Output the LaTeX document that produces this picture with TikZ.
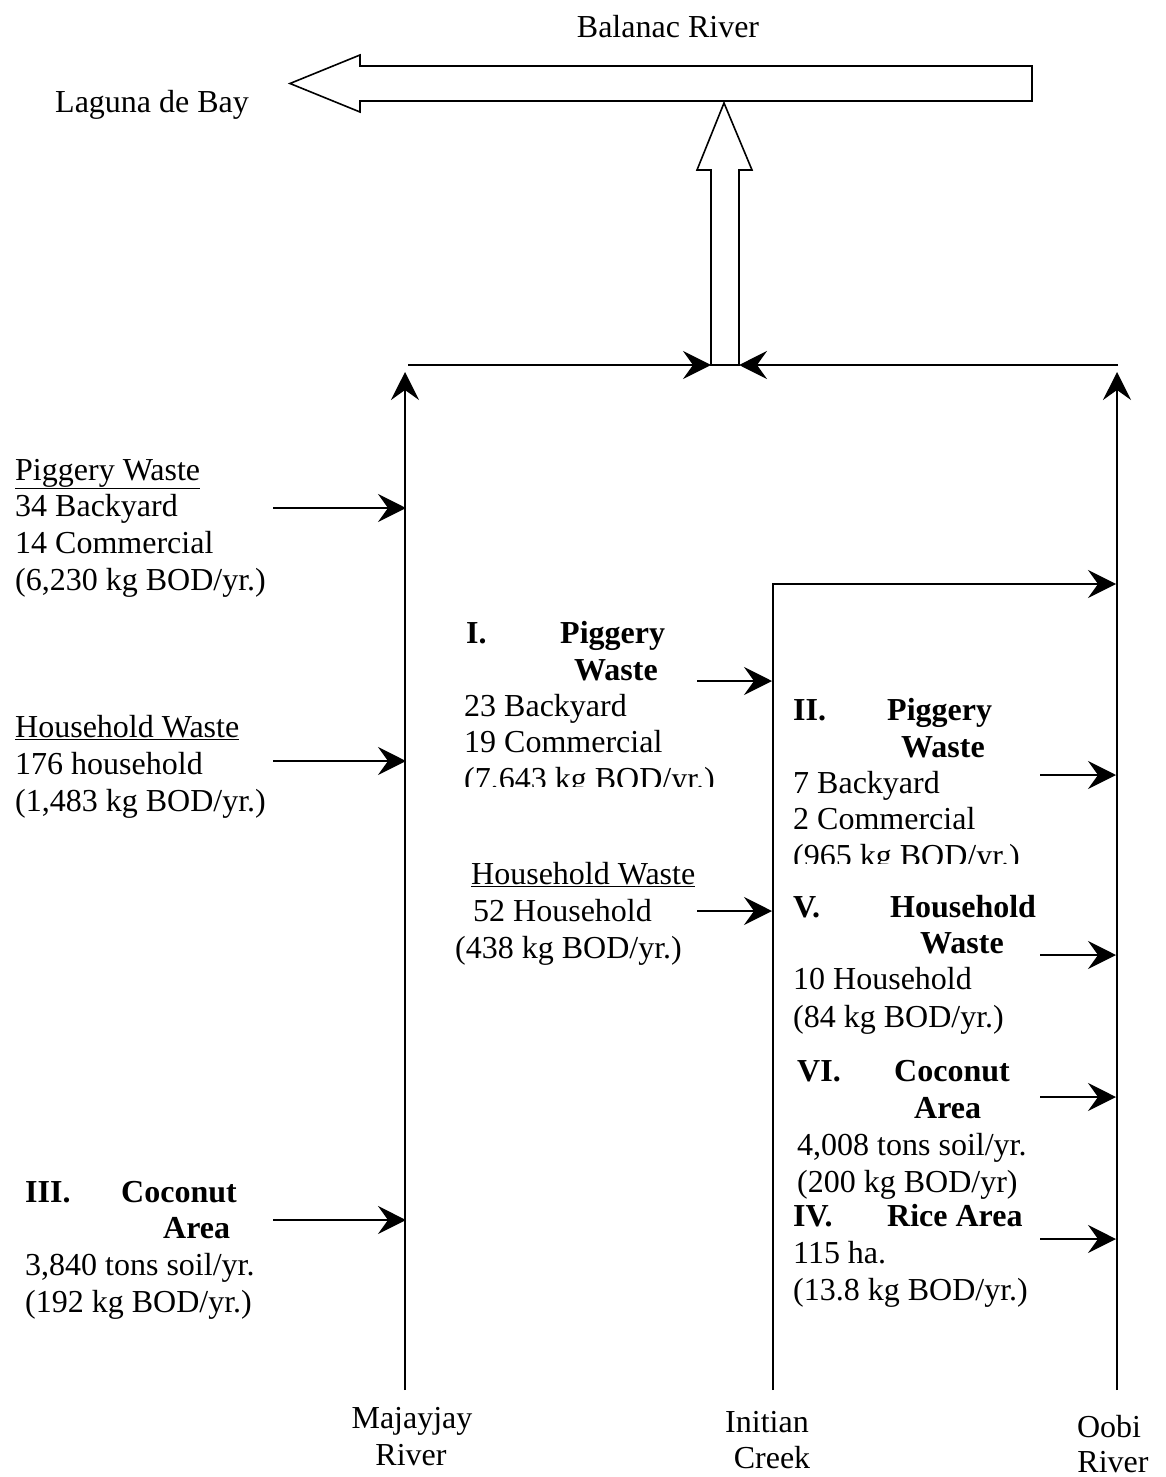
\documentclass[tikz,border=0pt]{standalone}
\usepackage{fontspec}
\setmainfont{Liberation Serif}
\usetikzlibrary{arrows.meta}
\begin{document}
\begin{tikzpicture}[x=1pt,y=-1pt,
  lbl/.style={inner sep=0pt,anchor=base west,font=\fontsize{32}{37}\selectfont},
  hd/.style={lbl,font=\fontsize{32}{37}\selectfont\bfseries},
  rivername/.style={inner sep=0pt,anchor=base,font=\fontsize{32}{37}\selectfont},
  flow/.style={line width=1.6pt,-{Stealth[length=28pt,width=28pt,inset=10pt]}},
  hollow/.style={line width=1.6pt,fill=white,line join=miter}]
\useasboundingbox (0,0) rectangle (1165,1477);

% top labels
\node[rivername] (balanac) at (668,38) {Balanac River};
\node[lbl] (laguna) at (55,113) {Laguna de Bay};

% hollow arrows
\draw[hollow] (1032,66) -- (360,66) -- (360,55) -- (290,83.5) -- (360,112) -- (360,101) -- (1032,101) -- cycle;
\draw[hollow] (711,365) -- (711,170) -- (697,170) -- (724,103) -- (752,170) -- (739,170) -- (739,365) -- cycle;

% river coordinates
\coordinate (mjB) at (405,1390);
\coordinate (mjT) at (405,372);
\coordinate (obB) at (1117,1390);
\coordinate (obT) at (1117,372);
\coordinate (inB) at (773,1390);
\coordinate (inC) at (773,584);
\coordinate (inE) at (1116,584);
\coordinate (jL) at (408,365);
\coordinate (jLE) at (711,365);
\coordinate (jR) at (1118,365);
\coordinate (jRE) at (739,365);

\draw[flow] (mjB) -- (mjT);
\draw[flow] (obB) -- (obT);
\draw[flow] (inB) -- (inC) -- (inE);
\draw[flow] (jL) -- (jLE);
\draw[flow] (jR) -- (jRE);

% input arrows
\foreach \n/\y in {a/508,b/761,c/1220}{
  \coordinate (l\n s) at (273,\y); \coordinate (l\n e) at (406,\y);
  \draw[flow] (l\n s) -- (l\n e);}
\foreach \n/\y in {a/681,b/911}{
  \coordinate (m\n s) at (697,\y); \coordinate (m\n e) at (772,\y);
  \draw[flow] (m\n s) -- (m\n e);}
\foreach \n/\y in {a/775,b/955,c/1097,d/1239}{
  \coordinate (r\n s) at (1040,\y); \coordinate (r\n e) at (1116,\y);
  \draw[flow] (r\n s) -- (r\n e);}

% left block
\node[lbl] (lp1) at (15,480) {\underline{Piggery Waste}};
\node[lbl] (lp2) at (15,516) {34 Backyard};
\node[lbl] (lp3) at (15,553) {14 Commercial};
\node[lbl] (lp4) at (15,590) {(6,230 kg BOD/yr.)};
\node[lbl] (lh1) at (15,737) {\underline{Household Waste}};
\node[lbl] (lh2) at (15,774) {176 household};
\node[lbl] (lh3) at (15,811) {(1,483 kg BOD/yr.)};
\node[hd] (lc0) at (25,1202) {III.};
\node[hd] (lc1) at (121,1202) {Coconut};
\node[hd] (lc2) at (163,1238) {Area};
\node[lbl] (lc3) at (25,1275) {3,840 tons soil/yr.};
\node[lbl] (lc4) at (25,1312) {(192 kg BOD/yr.)};

% middle block
\node[hd] (mp0) at (466,643) {I.};
\node[hd] (mp1) at (560,643) {Piggery};
\node[hd] (mp2) at (574,680) {Waste};
\node[lbl] (mp3) at (464,716) {23 Backyard};
\node[lbl] (mp4) at (464,752) {19 Commercial};
\begin{scope}
\clip (440,760) rectangle (760,786);
\node[lbl] (mp5) at (464,789) {(7,643 kg BOD/yr.)};
\end{scope}
\node[lbl] (mh1) at (471,884) {\underline{Household Waste}};
\node[lbl] (mh2) at (473,921) {52 Household};
\node[lbl] (mh3) at (455,958) {(438 kg BOD/yr.)};

% right block
\node[hd] (rp0) at (793,720) {II.};
\node[hd] (rp1) at (887,720) {Piggery};
\node[hd] (rp2) at (901,757) {Waste};
\node[lbl] (rp3) at (793,793) {7 Backyard};
\node[lbl] (rp4) at (793,829) {2 Commercial};
\begin{scope}
\clip (780,837) rectangle (1030,863);
\node[lbl] (rp5) at (793,866) {(965 kg BOD/yr.)};
\end{scope}
\node[hd] (rh0) at (793,917) {V.};
\node[hd] (rh1) at (890,917) {Household};
\node[hd] (rh2) at (920,953) {Waste};
\node[lbl] (rh3) at (793,989) {10 Household};
\node[lbl] (rh4) at (793,1027) {(84 kg BOD/yr.)};
\node[hd] (rc0) at (797,1081) {VI.};
\node[hd] (rc1) at (894,1081) {Coconut};
\node[hd] (rc2) at (914,1118) {Area};
\node[lbl] (rc3) at (797,1155) {4,008 tons soil/yr.};
\node[lbl] (rc4) at (797,1192) {(200 kg BOD/yr)};
\node[hd] (rr0) at (793,1226) {IV.};
\node[hd] (rr1) at (887,1226) {Rice Area};
\node[lbl] (rr2) at (793,1263) {115 ha.};
\node[lbl] (rr3) at (793,1300) {(13.8 kg BOD/yr.)};

% bottom river names
\node[rivername] (maj1) at (412,1428) {Majayjay};
\node[rivername] (maj2) at (411,1465) {River};
\node[rivername] (ini1) at (767,1432) {Initian};
\node[rivername] (ini2) at (772,1468) {Creek};
\node[rivername] (oob1) at (1109,1437) {Oobi};
\node[rivername] (oob2) at (1113,1472) {River};
\end{tikzpicture}
\end{document}
